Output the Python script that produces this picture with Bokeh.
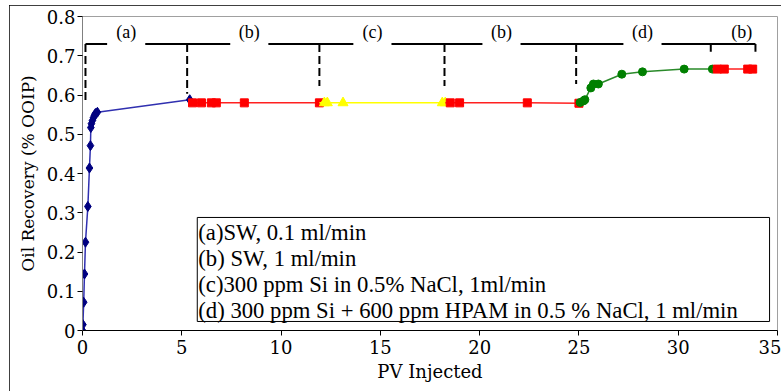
from bokeh.plotting import figure
from bokeh.models import Range1d, FixedTicker
from bokeh.core.properties import value
from bokeh.embed import file_html
from bokeh.resources import INLINE

FONT = "'Liberation Serif'"
AXIS_FONT = "DejaVu Serif"

# ---- data ----
a_pv = [0.0, 0.02, 0.06, 0.1, 0.15, 0.27, 0.35, 0.4, 0.42, 0.45, 0.5, 0.55, 0.6, 0.65, 0.75, 5.4]
a_rec = [0.0, 0.015, 0.072, 0.144, 0.225, 0.316, 0.414, 0.471, 0.517, 0.527, 0.535, 0.542, 0.548, 0.553, 0.556, 0.588]

b1_pv = [5.54, 5.99, 6.49, 6.74, 8.15, 11.93]
b1_rec = [0.58, 0.58, 0.58, 0.58, 0.58, 0.58]

c_pv = [12.18, 12.33, 13.12, 18.12, 18.27]
c_rec = [0.58, 0.58, 0.58, 0.58, 0.58]

b2_pv = [18.52, 18.99, 22.4, 25.0]
b2_rec = [0.58, 0.58, 0.58, 0.579]

d_pv = [25.06, 25.23, 25.3, 25.6, 25.73, 25.98, 27.16, 28.2, 30.3, 31.72]
d_rec = [0.581, 0.585, 0.588, 0.618, 0.628, 0.628, 0.653, 0.659, 0.666, 0.666]

b3_pv = [31.97, 32.32, 33.5, 33.75]
b3_rec = [0.666, 0.666, 0.666, 0.666]

# stage brackets
bracket_top = 0.73
dash_x = [0.15, 5.27, 11.93, 18.23, 24.86]
dash_bottom = [0.585, 0.603, 0.623, 0.623, 0.628]
tick_x = [31.64, 33.89]
tick_bottom = [0.71, 0.71]
stage_labels = ["(a)", "(b)", "(c)", "(b)", "(d)", "(b)"]
stage_label_x = [2.2, 8.4, 14.6, 21.1, 28.2, 33.2]
stage_label_gap = [True, True, True, True, True, False]

legend_lines = [
    "(a)SW, 0.1 ml/min",
    "(b) SW, 1 ml/min",
    "(c)300 ppm Si in 0.5% NaCl, 1ml/min",
    "(d) 300 ppm Si + 600 ppm HPAM in 0.5 % NaCl, 1 ml/min",
]

x_ticks = [0, 5, 10, 15, 20, 25, 30, 35]
y_ticks = [0, 0.1, 0.2, 0.3, 0.4, 0.5, 0.6, 0.7, 0.8]

# ---- figure ----
p = figure(width=772, height=386, output_backend="svg", toolbar_location=None,
           x_range=Range1d(0, 35), y_range=Range1d(0, 0.8),
           min_border_left=73, min_border_right=4, min_border_top=11, min_border_bottom=61)
p.styles = {"outline": "2px solid black", "outline-offset": "-2px",
            "margin-left": "9px", "margin-top": "5px"}
p.grid.visible = False
p.outline_line_color = "#a0a0a0"
p.outline_line_width = 1
p.background_fill_color = "white"
p.border_fill_color = "white"

for ax in (p.xaxis[0], p.yaxis[0]):
    ax.major_label_text_font = AXIS_FONT
    ax.major_label_text_font_size = "18px"
    ax.major_label_text_color = "black"
    ax.axis_label_text_font = AXIS_FONT
    ax.axis_label_text_font_style = "normal"
    ax.axis_label_text_color = "black"
    ax.minor_tick_line_color = None
    ax.major_tick_in = 0
    ax.major_tick_out = 5
    ax.major_tick_line_color = "black"

p.xaxis.axis_label_text_font_size = "18px"
p.yaxis.axis_label_text_font_size = "17px"
p.xaxis.ticker = FixedTicker(ticks=x_ticks)
p.yaxis.ticker = FixedTicker(ticks=y_ticks)
p.yaxis.major_label_overrides = {0: "0"}
p.xaxis.axis_label = "PV Injected"
p.yaxis.axis_label = "Oil Recovery (% OOIP)"
p.xaxis.axis_line_color = "black"
p.yaxis.axis_line_color = "#808080"
p.xaxis.major_label_standoff = 4
p.yaxis.major_label_standoff = 2
p.xaxis.axis_label_standoff = 4
p.yaxis.axis_label_standoff = 6

# ---- series ----
p.line(a_pv, a_rec, line_color="#3030b0", line_width=1.5)
p.scatter(a_pv, a_rec, marker="diamond", size=10, color="#000080")

p.line([a_pv[-1]] + b1_pv, [a_rec[-1]] + b1_rec, line_color="#ff2020", line_width=1.5)
p.scatter(b1_pv, b1_rec, marker="square", size=8, color="#ff0000")

p.line([b1_pv[-1]] + c_pv, [b1_rec[-1]] + c_rec, line_color="#ffff00", line_width=1.5)
p.scatter(c_pv, c_rec, marker="triangle", size=10, color="#ffff00")

p.line([c_pv[-1]] + b2_pv, [c_rec[-1]] + b2_rec, line_color="#ff2020", line_width=1.5)
p.scatter(b2_pv, b2_rec, marker="square", size=8, color="#ff0000")

p.line(d_pv, d_rec, line_color="#2a8a2a", line_width=1.5)
p.scatter(d_pv, d_rec, marker="circle", size=8, color="#008000")

p.line([d_pv[-1]] + b3_pv, [d_rec[-1]] + b3_rec, line_color="#ff2020", line_width=1.5)
p.scatter(b3_pv, b3_rec, marker="square", size=8, color="#ff0000")

# ---- stage brackets ----
half_gap = 0.96
x_start = dash_x[0]
x_end = tick_x[-1]
seg_x0, seg_x1 = [], []
cur = x_start
for lx, g in zip(stage_label_x, stage_label_gap):
    if g:
        seg_x0.append(cur)
        seg_x1.append(lx - half_gap)
        cur = lx + half_gap
seg_x0.append(cur)
seg_x1.append(x_end)
p.segment(x0=seg_x0, y0=[bracket_top] * len(seg_x0), x1=seg_x1, y1=[bracket_top] * len(seg_x1),
          line_color="black", line_width=2)
p.segment(x0=dash_x, y0=[bracket_top] * len(dash_x), x1=dash_x, y1=dash_bottom,
          line_color="black", line_width=2, line_dash="8 4")
p.segment(x0=tick_x, y0=[bracket_top] * len(tick_x), x1=tick_x, y1=tick_bottom,
          line_color="black", line_width=2)
p.text(x=stage_label_x, y=[bracket_top + 0.03] * len(stage_label_x), text=stage_labels,
       text_font=value(FONT), text_font_size="18px", text_align="center",
       text_baseline="middle", text_color="black")

# ---- legend box ----
box_l, box_r, box_b, box_t = 5.78, 34.6, 0.023, 0.288
p.quad(left=[box_l], right=[box_r], bottom=[box_b], top=[box_t],
       fill_color="white", line_color="black", line_width=1)
n = len(legend_lines)
step = (box_t - box_b) / n
p.text(x=[box_l + 0.05] * n, y=[box_t - 0.005 - step * (i + 0.5) for i in range(n)], text=legend_lines,
       text_font=value(FONT), text_font_size="22.7px", text_align="left",
       text_baseline="middle", text_color="black")

open("out.html", "w").write(file_html(p, INLINE))
